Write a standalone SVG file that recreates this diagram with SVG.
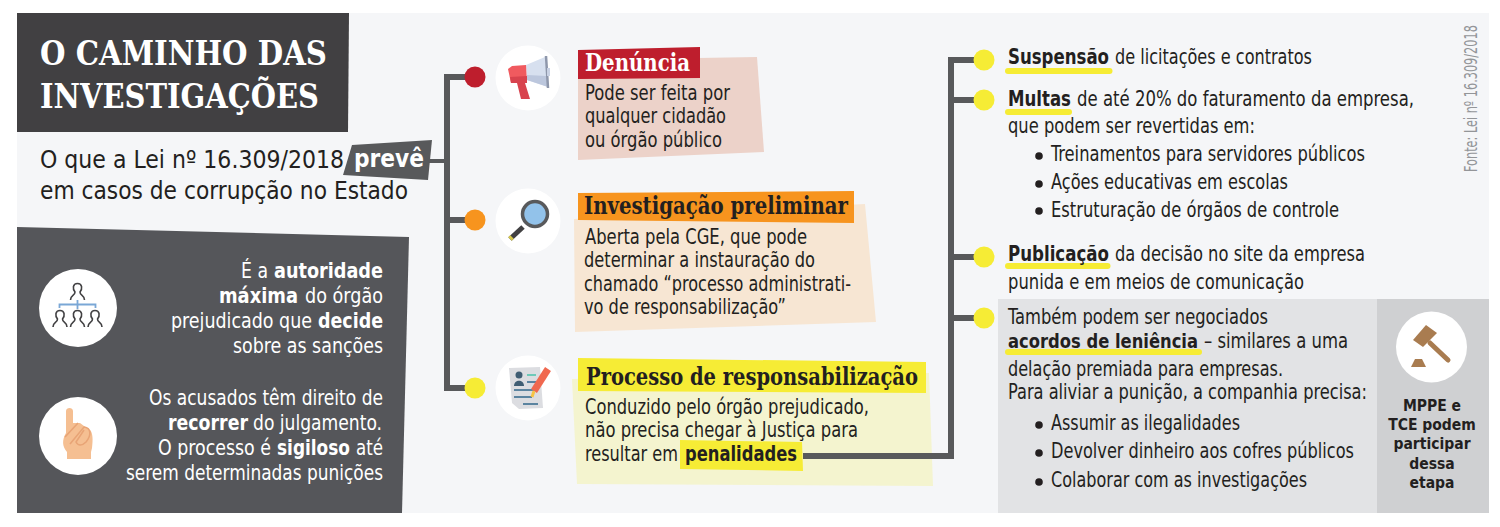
<svg xmlns="http://www.w3.org/2000/svg" width="1500" height="527" viewBox="0 0 1500 527">
<style>
text{font-family:"DejaVu Sans Condensed","DejaVu Sans","Liberation Sans",sans-serif;fill:#231f20;font-size:20.5px}
tspan.b,.b{font-weight:700}
.h{font-family:"DejaVu Serif Condensed","DejaVu Serif","Liberation Serif",serif;font-size:24px;font-weight:700}
.t{font-family:"DejaVu Serif Condensed","DejaVu Serif","Liberation Serif",serif;font-size:34px;font-weight:700;fill:#fff}
.w{fill:#fff;font-size:21px}
.s{font-size:25.5px}
.m{font-size:15.5px;font-weight:700;text-anchor:middle}
.cn{fill:none;stroke:#58595b;stroke-width:6}
.y{fill:#f6ec35}
.u{fill:#f6ec35}
.c{fill:#fff}
.p{fill:none;stroke:#414042;stroke-width:1.6}
</style>
<defs>
<path id="person" d="M-7,8 C-7,3 -2.500,4 -2.500,0 C-5,-3 -5,-8.500 0,-8.500 C5,-8.500 5,-3 2.500,0 C2.500,4 7,3 7,8"/>
</defs>
<rect width="1500" height="527" fill="#fff"/>
<rect id="background" x="17" y="13" width="1472" height="500" fill="#f5f6f8"/>

<g id="title">
<polygon points="17,13 349,13 348,132 17,132" fill="#414042"/>
<text class="t" x="40" y="65" textLength="287" lengthAdjust="spacingAndGlyphs">O CAMINHO DAS</text>
<text class="t" x="40" y="108" textLength="279" lengthAdjust="spacingAndGlyphs">INVESTIGAÇÕES</text>
</g>

<g id="subtitle">
<text class="s" x="40" y="168" textLength="304" lengthAdjust="spacingAndGlyphs">O que a Lei nº 16.309/2018</text>
<text class="s" x="40" y="199" textLength="368" lengthAdjust="spacingAndGlyphs">em casos de corrupção no Estado</text>
<polygon points="352,145 432,140 428,180 343,175" fill="#58595b"/>
<text class="s b" x="354" y="167" style="fill:#fff" textLength="70" lengthAdjust="spacingAndGlyphs">prevê</text>
</g>

<g id="side-panel">
<polygon points="17,227 409,237 402,513 17,513" fill="#55565a"/>
<circle class="c" cx="78" cy="308" r="39"/>
<circle class="c" cx="78" cy="436" r="39"/>
<g id="icon-hierarchy">
<path d="M59.500,308V304.500H95.500V308M77.500,300V309" fill="none" stroke="#7aa7d6" stroke-width="1.800"/>
<use href="#person" class="p" x="77.500" y="292"/>
<use href="#person" class="p" x="60" y="319"/>
<use href="#person" class="p" x="77.500" y="319"/>
<use href="#person" class="p" x="95" y="319"/>
</g>
<g id="icon-hand">
<path d="M66,411C66,407 73,407 73,411V423L80,423L84,426L90,430C93,433 93,440 92,448L91,452V459H67V452C62,446 62,440 66,433Z" fill="#f5bf92"/>
<path d="M65,437L78,423M70,444L84,427C92,428 91,436 86,442C82,446 78,446 76,442L84,430" fill="none" stroke="#e8a476" stroke-width="1.600"/>
</g>
<text class="w"><tspan x="241" y="278" textLength="27" lengthAdjust="spacingAndGlyphs">É a</tspan><tspan class="b" x="274" y="278" textLength="109" lengthAdjust="spacingAndGlyphs">autoridade</tspan></text>
<text class="w"><tspan class="b" x="219" y="303" textLength="79" lengthAdjust="spacingAndGlyphs">máxima</tspan><tspan x="305" y="303" textLength="78" lengthAdjust="spacingAndGlyphs">do órgão</tspan></text>
<text class="w"><tspan x="171" y="328" textLength="141" lengthAdjust="spacingAndGlyphs">prejudicado que</tspan><tspan class="b" x="318" y="328" textLength="65" lengthAdjust="spacingAndGlyphs">decide</tspan></text>
<text class="w" x="233" y="353" textLength="150" lengthAdjust="spacingAndGlyphs">sobre as sanções</text>
<text class="w" x="149" y="405" textLength="234" lengthAdjust="spacingAndGlyphs">Os acusados têm direito de</text>
<text class="w"><tspan class="b" x="168" y="430" textLength="80" lengthAdjust="spacingAndGlyphs">recorrer</tspan><tspan x="253" y="430" textLength="129" lengthAdjust="spacingAndGlyphs">do julgamento.</tspan></text>
<text class="w"><tspan x="158" y="455" textLength="113" lengthAdjust="spacingAndGlyphs">O processo é</tspan><tspan class="b" x="277" y="455" textLength="73" lengthAdjust="spacingAndGlyphs">sigiloso</tspan><tspan x="356" y="455" textLength="27" lengthAdjust="spacingAndGlyphs">até</tspan></text>
<text class="w" x="126" y="480" textLength="257" lengthAdjust="spacingAndGlyphs">serem determinadas punições</text>
</g>

<g id="step-denuncia">
<circle class="c" cx="528" cy="78" r="32.500"/>
<g id="icon-megaphone">
<polygon points="526,65 545,57 548,87 527,80" fill="#d7e0ef"/>
<polygon points="527,75 547,76 548,87 527,80" fill="#bcc7dd"/>
<path d="M546,56L548,88" stroke="#8e97ab" stroke-width="2.500"/>
<rect x="547" y="68" width="3" height="8" fill="#c9d2e4"/>
<polygon points="508,69 512,66 526,65 527,83 511,83" fill="#f05a5f"/>
<polygon points="510,77 527,76 527,83 511,83" fill="#d8434e"/>
<polygon points="517,83 525,83 530,99 521,99" fill="#d8434e"/>
</g>
<polygon points="578,60 757,57 764,152 578,160" fill="#ecd2c9"/>
<polygon points="578,50 700,47 700,78 578,79" fill="#be1e2d"/>
<text class="h" x="585" y="71" style="fill:#fff" textLength="105" lengthAdjust="spacingAndGlyphs">Denúncia</text>
<text x="585" y="100" textLength="145" lengthAdjust="spacingAndGlyphs">Pode ser feita por</text>
<text x="585" y="123" textLength="141" lengthAdjust="spacingAndGlyphs">qualquer cidadão</text>
<text x="585" y="147" textLength="137" lengthAdjust="spacingAndGlyphs">ou órgão público</text>
</g>

<g id="step-investigacao">
<circle class="c" cx="528" cy="221" r="32.500"/>
<g id="icon-magnifier">
<path d="M523,227L510,239" stroke="#414042" stroke-width="5"/>
<path d="M512,237L510,239" stroke="#d8c94a" stroke-width="5"/>
<circle cx="535" cy="214" r="12.500" fill="#92c2ea" stroke="#58595b" stroke-width="3.500"/>
</g>
<polygon points="574,219 865,204 876,322 575,332" fill="#f7e6d3"/>
<polygon points="578,193 854,191 854,223 578,220" fill="#f7941e"/>
<text class="h" x="584" y="214" textLength="264" lengthAdjust="spacingAndGlyphs">Investigação preliminar</text>
<text x="585" y="244" textLength="222" lengthAdjust="spacingAndGlyphs">Aberta pela CGE, que pode</text>
<text x="584" y="267" textLength="231" lengthAdjust="spacingAndGlyphs">determinar a instauração do</text>
<text x="584" y="291" textLength="267" lengthAdjust="spacingAndGlyphs">chamado “processo administrati-</text>
<text x="584" y="314" textLength="202" lengthAdjust="spacingAndGlyphs">vo de responsabilização”</text>
</g>

<g id="step-processo">
<circle class="c" cx="528" cy="388" r="32.500"/>
<g id="icon-document">
<polygon points="509,368 540,367 543,408 519,409 512,403" fill="#dcdde1"/>
<circle cx="519" cy="375" r="3.500" fill="#3f5d73"/>
<path d="M514,386C514,379 524,379 524,386Z" fill="#3f5d73"/>
<path d="M527,382H536M514,390H534M514,397H532M523,404H538" stroke="#5b84a0" stroke-width="2"/>
<path d="M527,375H536" stroke="#6ec9b8" stroke-width="2"/>
<path d="M548,369L534,391" stroke="#f0684f" stroke-width="7"/>
<path d="M534,391L532,397" stroke="#f6c445" stroke-width="3"/>
</g>
<polygon points="572,379 929,373 933,486 577,484" fill="#f4f4cf"/>
<polygon points="578,358 926,362 926,393 578,391" class="y"/>
<text class="h" x="586" y="385" textLength="332" lengthAdjust="spacingAndGlyphs">Processo de responsabilização</text>
<text x="585" y="414" textLength="284" lengthAdjust="spacingAndGlyphs">Conduzido pelo órgão prejudicado,</text>
<text x="585" y="437" textLength="273" lengthAdjust="spacingAndGlyphs">não precisa chegar à Justiça para</text>
<polygon points="680,440 802,442 803,471 680,469" class="y"/>
<text x="585" y="461" textLength="93" lengthAdjust="spacingAndGlyphs">resultar em</text>
<text class="b" x="685" y="461" textLength="112" lengthAdjust="spacingAndGlyphs">penalidades</text>
</g>

<g id="connectors">
<path class="cn" d="M472,77H447V388H472"/>
<path class="cn" d="M447,220H472"/>
<path class="cn" d="M428,161H447" style="stroke-width:4"/>
<path class="cn" d="M803,456H951V60H982"/>
<path class="cn" d="M951,100H982M951,257H982M951,318H982"/>
</g>

<g id="dots-left">
<circle cx="475" cy="77" r="10.500" fill="#be1e2d"/>
<circle cx="475" cy="220" r="10.500" fill="#f7941e"/>
<circle class="y" cx="475" cy="388" r="10.500"/>
</g>

<g id="item-suspensao">
<circle class="y" cx="984" cy="60" r="10.500"/>
<rect class="u" x="1005" y="68" width="107.500" height="6" rx="3"/>
<text><tspan class="b" x="1008" y="64" textLength="101" lengthAdjust="spacingAndGlyphs">Suspensão</tspan><tspan x="1115" y="64" textLength="197" lengthAdjust="spacingAndGlyphs">de licitações e contratos</tspan></text>
</g>

<g id="item-multas">
<circle class="y" cx="984" cy="100" r="10.500"/>
<rect class="u" x="1005" y="109" width="67" height="6" rx="3"/>
<text><tspan class="b" x="1008" y="106" textLength="63" lengthAdjust="spacingAndGlyphs">Multas</tspan><tspan x="1077" y="106" textLength="337" lengthAdjust="spacingAndGlyphs">de até 20% do faturamento da empresa,</tspan></text>
<text x="1008" y="133" textLength="247" lengthAdjust="spacingAndGlyphs">que podem ser revertidas em:</text>
<circle cx="1039" cy="156" r="3.800" fill="#231f20"/>
<text x="1051" y="161" textLength="314" lengthAdjust="spacingAndGlyphs">Treinamentos para servidores públicos</text>
<circle cx="1039" cy="184" r="3.800" fill="#231f20"/>
<text x="1051" y="189" textLength="237" lengthAdjust="spacingAndGlyphs">Ações educativas em escolas</text>
<circle cx="1039" cy="211" r="3.800" fill="#231f20"/>
<text x="1051" y="217" textLength="288" lengthAdjust="spacingAndGlyphs">Estruturação de órgãos de controle</text>
</g>

<g id="item-publicacao">
<circle class="y" cx="984" cy="257" r="10.500"/>
<rect class="u" x="1005" y="263" width="105.500" height="6" rx="3"/>
<text><tspan class="b" x="1008" y="261" textLength="101" lengthAdjust="spacingAndGlyphs">Publicação</tspan><tspan x="1115" y="261" textLength="250" lengthAdjust="spacingAndGlyphs">da decisão no site da empresa</tspan></text>
<text x="1008" y="289" textLength="296" lengthAdjust="spacingAndGlyphs">punida e em meios de comunicação</text>
</g>

<g id="item-leniencia">
<rect x="998" y="299" width="491" height="214" fill="#e2e3e5"/>
<circle class="y" cx="984" cy="318" r="10.500"/>
<rect class="u" x="1005" y="349" width="197" height="6" rx="3"/>
<text x="1008" y="324" textLength="260" lengthAdjust="spacingAndGlyphs">Também podem ser negociados</text>
<text class="b" x="1008" y="348" style="font-size:19px" textLength="190" lengthAdjust="spacingAndGlyphs">acordos de leniência</text>
<text x="1204" y="348" textLength="144" lengthAdjust="spacingAndGlyphs">– similares a uma</text>
<text x="1008" y="376" textLength="275" lengthAdjust="spacingAndGlyphs">delação premiada para empresas.</text>
<text x="1008" y="399" textLength="359" lengthAdjust="spacingAndGlyphs">Para aliviar a punição, a companhia precisa:</text>
<circle cx="1039" cy="425" r="3.800" fill="#231f20"/>
<text x="1051" y="430" textLength="189" lengthAdjust="spacingAndGlyphs">Assumir as ilegalidades</text>
<circle cx="1039" cy="453" r="3.800" fill="#231f20"/>
<text x="1051" y="458" textLength="303" lengthAdjust="spacingAndGlyphs">Devolver dinheiro aos cofres públicos</text>
<circle cx="1039" cy="482" r="3.800" fill="#231f20"/>
<text x="1051" y="487" textLength="256" lengthAdjust="spacingAndGlyphs">Colaborar com as investigações</text>
</g>

<g id="mppe-note">
<rect x="1377" y="299" width="112" height="214" fill="#cfd0d2"/>
<circle class="c" cx="1431.500" cy="347" r="35.500"/>
<g id="icon-gavel" fill="#a97c50">
<polygon points="1426,325 1437,333 1423,347 1413,340"/>
<path d="M1430,343L1448,360" stroke="#a97c50" stroke-width="5" stroke-linecap="round"/>
<polygon points="1411,367 1415,359 1422,359 1426,367"/>
</g>
<text class="m" x="1432" y="411">MPPE e</text>
<text class="m" x="1432" y="430">TCE podem</text>
<text class="m" x="1432" y="449">participar</text>
<text class="m" x="1432" y="469">dessa</text>
<text class="m" x="1432" y="488">etapa</text>
</g>

<text id="source" transform="translate(1477,172) rotate(-90) scale(0.74,1)" style="fill:#939598;font-size:17px">Fonte: Lei nº 16.309/2018</text>
</svg>
